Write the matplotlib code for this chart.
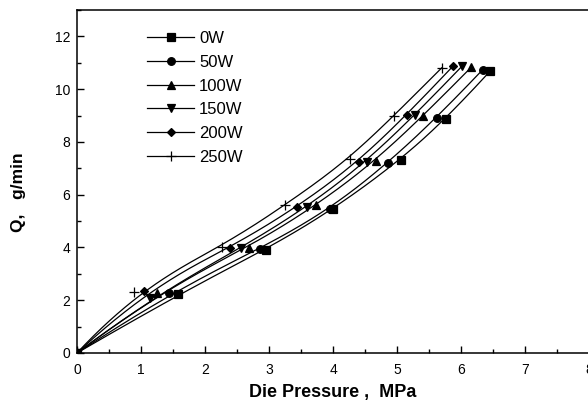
import numpy as np
import matplotlib
matplotlib.use("Agg")
import matplotlib.pyplot as plt
from matplotlib.ticker import MultipleLocator

plt.rcParams['font.family'] = ['Liberation Sans', 'DejaVu Sans']

labels = ["0W", "50W", "100W", "150W", "200W", "250W"]
markers = ["s", "o", "^", "v", "D", "+"]

p_0W   = [0, 1.58, 2.95, 4.00, 5.06, 5.76, 6.45]
q_0W   = [0, 2.23, 3.90, 5.44, 7.31, 8.85, 10.67]
p_50W  = [0, 1.43, 2.86, 3.95, 4.86, 5.62, 6.34]
q_50W  = [0, 2.26, 3.93, 5.45, 7.19, 8.91, 10.74]
p_100W = [0, 1.25, 2.68, 3.74, 4.67, 5.41, 6.16]
q_100W = [0, 2.26, 3.99, 5.60, 7.28, 8.99, 10.83]
p_150W = [0, 1.14, 2.57, 3.59, 4.53, 5.28, 6.02]
q_150W = [0, 2.07, 3.98, 5.53, 7.25, 9.02, 10.88]
p_200W = [0, 1.04, 2.39, 3.43, 4.41, 5.15, 5.87]
q_200W = [0, 2.35, 3.97, 5.52, 7.25, 9.02, 10.86]
p_250W = [0, 0.89, 2.27, 3.25, 4.26, 4.95, 5.70]
q_250W = [0, 2.32, 4.03, 5.61, 7.34, 8.99, 10.81]

pressures = [p_0W, p_50W, p_100W, p_150W, p_200W, p_250W]
flows = [q_0W, q_50W, q_100W, q_150W, q_200W, q_250W]


def bspline_basis(i, k, t, knots):
    if k == 0:
        last = (knots[i + 1] == knots[-1]) & (knots[i] < knots[i + 1])
        return np.where((t >= knots[i]) & ((t < knots[i + 1]) | (last & (t == knots[-1]))), 1.0, 0.0)
    out = np.zeros_like(t)
    d1 = knots[i + k] - knots[i]
    d2 = knots[i + k + 1] - knots[i + 1]
    if d1 > 0:
        out += (t - knots[i]) / d1 * bspline_basis(i, k - 1, t, knots)
    if d2 > 0:
        out += (knots[i + k + 1] - t) / d2 * bspline_basis(i + 1, k - 1, t, knots)
    return out


def bspline_curve(xs, ys, npts=400, deg=3):
    # clamped uniform B-spline using the data points as control points
    n = len(xs)
    inner = np.arange(1, n - deg)
    knots = np.concatenate([np.zeros(deg + 1), inner, np.full(deg + 1, n - deg)]).astype(float)
    t = np.linspace(0, n - deg, npts)
    B = np.array([bspline_basis(i, deg, t, knots) for i in range(n)])
    return B.T @ np.asarray(xs, float), B.T @ np.asarray(ys, float)


fig = plt.figure(figsize=(5.88, 4.01), dpi=100)
ax = fig.add_axes([77/588, 48/401, 512/588, 343/401])

for p, q, lab, m in zip(pressures, flows, labels, markers):
    cx, cy = bspline_curve(p, q)
    ax.plot(cx, cy, color='black', lw=0.9)
    ms = 7 if m == '+' else (4.5 if m == 'D' else 5.5)
    ax.plot(p, q, linestyle='none', marker=m, color='black', ms=ms, mew=0.9)
    ax.plot([], [], color='black', lw=0.9, marker=m, ms=ms, mew=0.9, label=lab)

ax.set_xlim(0, 8)
ax.set_ylim(0, 13)
ax.xaxis.set_major_locator(MultipleLocator(1))
ax.xaxis.set_minor_locator(MultipleLocator(0.5))
ax.yaxis.set_major_locator(MultipleLocator(2))
ax.yaxis.set_minor_locator(MultipleLocator(1))
ax.tick_params(which='both', direction='in', top=False, right=False, labelsize=10)
ax.tick_params(axis='x', which='major', pad=7)
ax.tick_params(axis='y', which='major', pad=5)
ax.tick_params(which='major', length=5, width=1)
ax.tick_params(which='minor', length=3, width=1)
for s in ax.spines.values():
    s.set_linewidth(1.1)

ax.set_xlabel("Die Pressure ,  MPa", fontsize=13, fontweight='bold', labelpad=5)
ax.set_ylabel("Q,   g/min", fontsize=12.5, fontweight='bold')
ax.yaxis.set_label_coords(-0.1, 0.47)

leg = ax.legend(loc='upper left', bbox_to_anchor=(0.108, 0.982), frameon=False,
                fontsize=12, handlelength=2.8, labelspacing=0.52, handletextpad=0.3)

fig.savefig("out.png", dpi=100)
